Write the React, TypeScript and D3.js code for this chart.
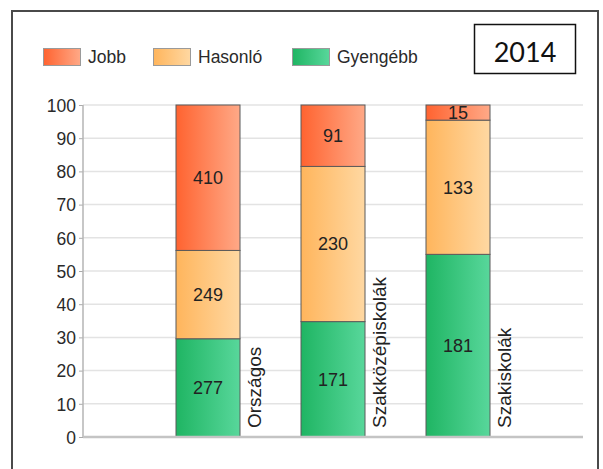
import React, { useEffect, useRef } from 'react';
import * as d3 from 'd3';

// counts per school type
const categories = ['Országos', 'Szakközépiskolák', 'Szakiskolák'];
const gyengebb = [277, 171, 181];
const hasonlo = [249, 230, 133];
const jobb = [410, 91, 15];

const seriesNames = ['Gyengébb', 'Hasonló', 'Jobb'];
const legendOrder = ['Jobb', 'Hasonló', 'Gyengébb'];
const yTicks = [0, 10, 20, 30, 40, 50, 60, 70, 80, 90, 100];
const yearLabel = '2014';

const gradients: Record<string, [string, string]> = {
  Jobb: ['#ff6330', '#ffa987'],
  Hasonló: ['#ffb55c', '#ffd8a2'],
  Gyengébb: ['#1fb563', '#58d79b'],
};

interface Row {
  cat: string;
  Gyengébb: number;
  Hasonló: number;
  Jobb: number;
}

const App: React.FC = () => {
  const chartRef = useRef<SVGSVGElement>(null);

  useEffect(() => {
    drawChart();
  }, []);

  const drawChart = () => {
    const svg = d3.select(chartRef.current!);
    svg.selectAll('*').remove();

    const width = 603;
    const height = 469;
    const plot = { left: 83, right: 583, top: 105, bottom: 437 };
    const barWidth = 64;
    const font = '"Liberation Sans", Arial, sans-serif';

    const rows: Row[] = categories.map((c, i) => ({
      cat: c,
      Gyengébb: gyengebb[i],
      Hasonló: hasonlo[i],
      Jobb: jobb[i],
    }));

    const stack = d3
      .stack<Row>()
      .keys(seriesNames)
      .offset(d3.stackOffsetExpand);
    const stacked = stack(rows);

    const x = d3
      .scalePoint<string>()
      .domain(categories)
      .range([plot.left, plot.right])
      .padding(1);

    const y = d3
      .scaleLinear()
      .domain([0, 100])
      .range([plot.bottom, plot.top]);

    // gradients
    const defs = svg.append('defs');
    Object.entries(gradients).forEach(([name, [c0, c1]], i) => {
      const g = defs
        .append('linearGradient')
        .attr('id', `grad${i}`)
        .attr('x1', '0')
        .attr('x2', '1')
        .attr('y1', '0')
        .attr('y2', '0');
      g.append('stop').attr('offset', '0%').attr('stop-color', c0);
      g.append('stop').attr('offset', '100%').attr('stop-color', c1);
    });
    const gradId = (name: string) =>
      `url(#grad${Object.keys(gradients).indexOf(name)})`;

    svg.append('rect').attr('width', width).attr('height', height).attr('fill', '#fff');

    // outer frame (bottom runs off the page)
    svg
      .append('rect')
      .attr('x', 12)
      .attr('y', 11)
      .attr('width', 586)
      .attr('height', 480)
      .attr('fill', 'none')
      .attr('stroke', '#4a4a4a')
      .attr('stroke-width', 2);

    // year box
    svg
      .append('rect')
      .attr('x', 474.5)
      .attr('y', 24.5)
      .attr('width', 101)
      .attr('height', 49)
      .attr('fill', '#fff')
      .attr('stroke', '#111')
      .attr('stroke-width', 1.5);
    svg
      .append('text')
      .attr('x', 525)
      .attr('y', 62)
      .attr('text-anchor', 'middle')
      .attr('font-family', 'Lato, "Open Sans", sans-serif')
      .attr('font-size', 27)
      .attr('fill', '#111')
      .text(yearLabel);

    // legend
    const legendX = [43, 153, 292];
    const legend = svg.append('g').attr('font-family', font).attr('font-size', 17.5).attr('fill', '#2a2a2a');
    legendOrder.forEach((name, i) => {
      legend
        .append('rect')
        .attr('x', legendX[i] + 0.5)
        .attr('y', 48.5)
        .attr('width', 37)
        .attr('height', 17)
        .attr('fill', gradId(name))
        .attr('stroke', '#9a9a9a')
        .attr('stroke-width', 1);
      legend
        .append('text')
        .attr('x', legendX[i] + 45)
        .attr('y', 63)
        .text(name);
    });

    // gridlines
    svg
      .append('g')
      .selectAll('line')
      .data(yTicks.filter((t) => t > 0))
      .enter()
      .append('line')
      .attr('x1', plot.left)
      .attr('x2', plot.right)
      .attr('y1', (d) => y(d))
      .attr('y2', (d) => y(d))
      .attr('stroke', '#e3e3e3')
      .attr('stroke-width', 1.5);

    // y axis
    const yAxis = d3
      .axisLeft(y)
      .tickValues(yTicks)
      .tickSize(4)
      .tickPadding(3);
    const yg = svg
      .append('g')
      .attr('transform', `translate(${plot.left},0)`)
      .call(yAxis);
    yg.select('.domain').remove();
    yg.selectAll('line').attr('stroke', '#aaa');
    yg.selectAll('text')
      .attr('font-family', font)
      .attr('font-size', 17.5)
      .attr('fill', '#2a2a2a')
      .attr('dy', '0.36em');
    svg
      .append('line')
      .attr('x1', plot.left)
      .attr('x2', plot.left)
      .attr('y1', plot.top)
      .attr('y2', plot.bottom)
      .attr('stroke', '#b4b4b4')
      .attr('stroke-width', 1.5);

    // bars
    stacked.forEach((layer) => {
      const key = layer.key;
      const g = svg.append('g');
      g.selectAll('rect')
        .data(layer)
        .enter()
        .append('rect')
        .attr('x', (d) => (x(d.data.cat) as number) - barWidth / 2)
        .attr('y', (d) => y(d[1] * 100))
        .attr('width', barWidth)
        .attr('height', (d) => y(d[0] * 100) - y(d[1] * 100))
        .attr('fill', gradId(key))
        .attr('stroke', '#5a5a5a')
        .attr('stroke-width', 1);
    });

    // value labels
    stacked.forEach((layer) => {
      const key = layer.key as keyof Row;
      svg
        .append('g')
        .selectAll('text')
        .data(layer)
        .enter()
        .append('text')
        .attr('x', (d) => x(d.data.cat) as number)
        .attr('y', (d) => y(((d[0] + d[1]) / 2) * 100))
        .attr('dy', '0.36em')
        .attr('text-anchor', 'middle')
        .attr('font-family', font)
        .attr('font-size', 18)
        .attr('fill', '#222')
        .text((d) => String(d.data[key]));
    });

    // bottom axis line
    svg
      .append('line')
      .attr('x1', plot.left)
      .attr('x2', plot.right)
      .attr('y1', plot.bottom)
      .attr('y2', plot.bottom)
      .attr('stroke', '#c4c4c4')
      .attr('stroke-width', 2.5);

    // rotated category labels
    svg
      .append('g')
      .selectAll('text')
      .data(categories)
      .enter()
      .append('text')
      .attr('transform', (d) => `translate(${(x(d) as number) + 53},${plot.bottom - 9}) rotate(-90)`)
      .attr('font-family', font)
      .attr('font-size', 19)
      .attr('fill', '#222')
      .text((d) => d);
  };

  return (
    <svg
      ref={chartRef}
      width={603}
      height={469}
      style={{ position: 'absolute', left: 0, top: 0, display: 'block' }}
    />
  );
};

export default App;
